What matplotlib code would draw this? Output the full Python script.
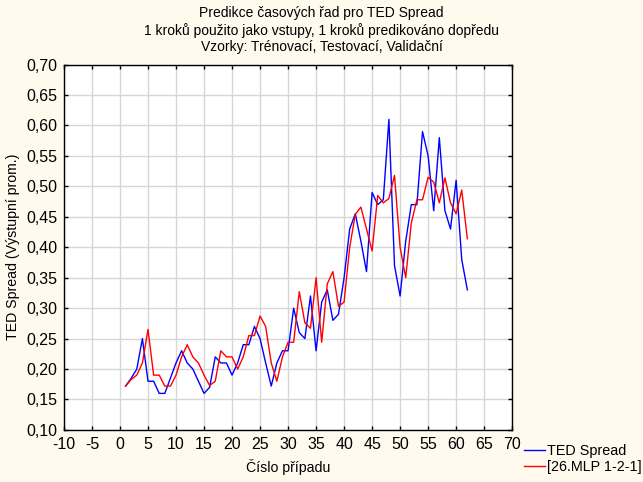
import numpy as np
import matplotlib
matplotlib.use("Agg")
import matplotlib.pyplot as plt
from matplotlib.ticker import FuncFormatter

plt.rcParams['font.family'] = ['Liberation Sans', 'DejaVu Sans']
plt.rcParams['axes.unicode_minus'] = False

# observed TED Spread, cases 1..62
ted_spread = [
    0.172, 0.185, 0.20, 0.25, 0.18, 0.18, 0.16, 0.16, 0.185, 0.21,
    0.23, 0.21, 0.20, 0.18, 0.16, 0.17, 0.22, 0.21, 0.21, 0.19,
    0.21, 0.24, 0.24, 0.27, 0.25, 0.21, 0.172, 0.21, 0.23, 0.23,
    0.30, 0.26, 0.25, 0.32, 0.23, 0.31, 0.33, 0.28, 0.29, 0.35,
    0.43, 0.455, 0.41, 0.36, 0.49, 0.47, 0.478, 0.61, 0.37, 0.32,
    0.41, 0.47, 0.47, 0.59, 0.55, 0.46, 0.58, 0.46, 0.43, 0.51,
    0.38, 0.33,
]

# MLP 1-2-1 prediction
mlp_pred = [
    0.172, 0.183, 0.19, 0.21, 0.265, 0.19, 0.19, 0.172, 0.172, 0.19,
    0.22, 0.24, 0.22, 0.21, 0.19, 0.173, 0.18, 0.23, 0.22, 0.22,
    0.20, 0.22, 0.255, 0.255, 0.287, 0.27, 0.21, 0.18, 0.22, 0.244,
    0.244, 0.327, 0.276, 0.267, 0.35, 0.244, 0.34, 0.36, 0.303, 0.31,
    0.40, 0.454, 0.466, 0.43, 0.394, 0.485, 0.473, 0.48, 0.518, 0.40,
    0.35, 0.44, 0.478, 0.478, 0.515, 0.507, 0.473, 0.514, 0.473, 0.455,
    0.494, 0.414,
]

cases = np.arange(1, len(ted_spread) + 1)

bg = '#FFF9EE'
fig = plt.figure(figsize=(6.43, 4.82), dpi=100, facecolor=bg)
ax = fig.add_axes([0.0995, 0.108, 0.697, 0.758])
ax.set_facecolor('white')

l1, = ax.plot(cases, ted_spread, color='#0000FF', lw=1.0, label='TED Spread')
l2, = ax.plot(cases, mlp_pred, color='#FF0000', lw=1.0, label='[26.MLP 1-2-1]')

ax.set_xlim(-10, 70)
ax.set_ylim(0.10, 0.70)
ax.set_xticks(np.arange(-10, 71, 5))
ax.set_yticks(np.arange(0.10, 0.701, 0.05))
ax.yaxis.set_major_formatter(FuncFormatter(lambda v, p: f"{v:.2f}".replace('.', ',')))
ax.grid(True, color='#D6D6D6', lw=1.0)
ax.set_axisbelow(True)
ax.tick_params(direction='in', top=True, right=True, length=3, width=1,
               labelsize=11.5, colors='black')
ax.tick_params(axis='x', pad=5)
ax.tick_params(axis='y', pad=4.5)
for s in ax.spines.values():
    s.set_linewidth(1.0)
    s.set_color('black')

ax.set_xlabel('Číslo případu', fontsize=10.2, va='center')
ax.set_ylabel('TED Spread (Výstupní prom.)', fontsize=10.2, va='center')
ax.xaxis.set_label_coords(0.5, -0.101)
ax.yaxis.set_label_coords(-0.114, 0.5)

fig.text(0.5, 1 - 13.5 / 482, 'Predikce časových řad pro TED Spread', ha='center', va='center', fontsize=10)
fig.text(0.5, 1 - 30.5 / 482, '1 kroků použito jako vstupy, 1 kroků predikováno dopředu', ha='center', va='center', fontsize=10)
fig.text(0.5, 1 - 46.5 / 482, 'Vzorky: Trénovací, Testovací, Validační', ha='center', va='center', fontsize=10)

fig.legend(handles=[l1, l2], loc='upper left', bbox_to_anchor=(524 / 643, 1 - 444 / 482),
           frameon=False, fontsize=10.4, handlelength=1.45, handletextpad=0.14,
           labelspacing=0.12, borderpad=0, borderaxespad=0)

fig.savefig('out.png', dpi=100, facecolor=bg)
